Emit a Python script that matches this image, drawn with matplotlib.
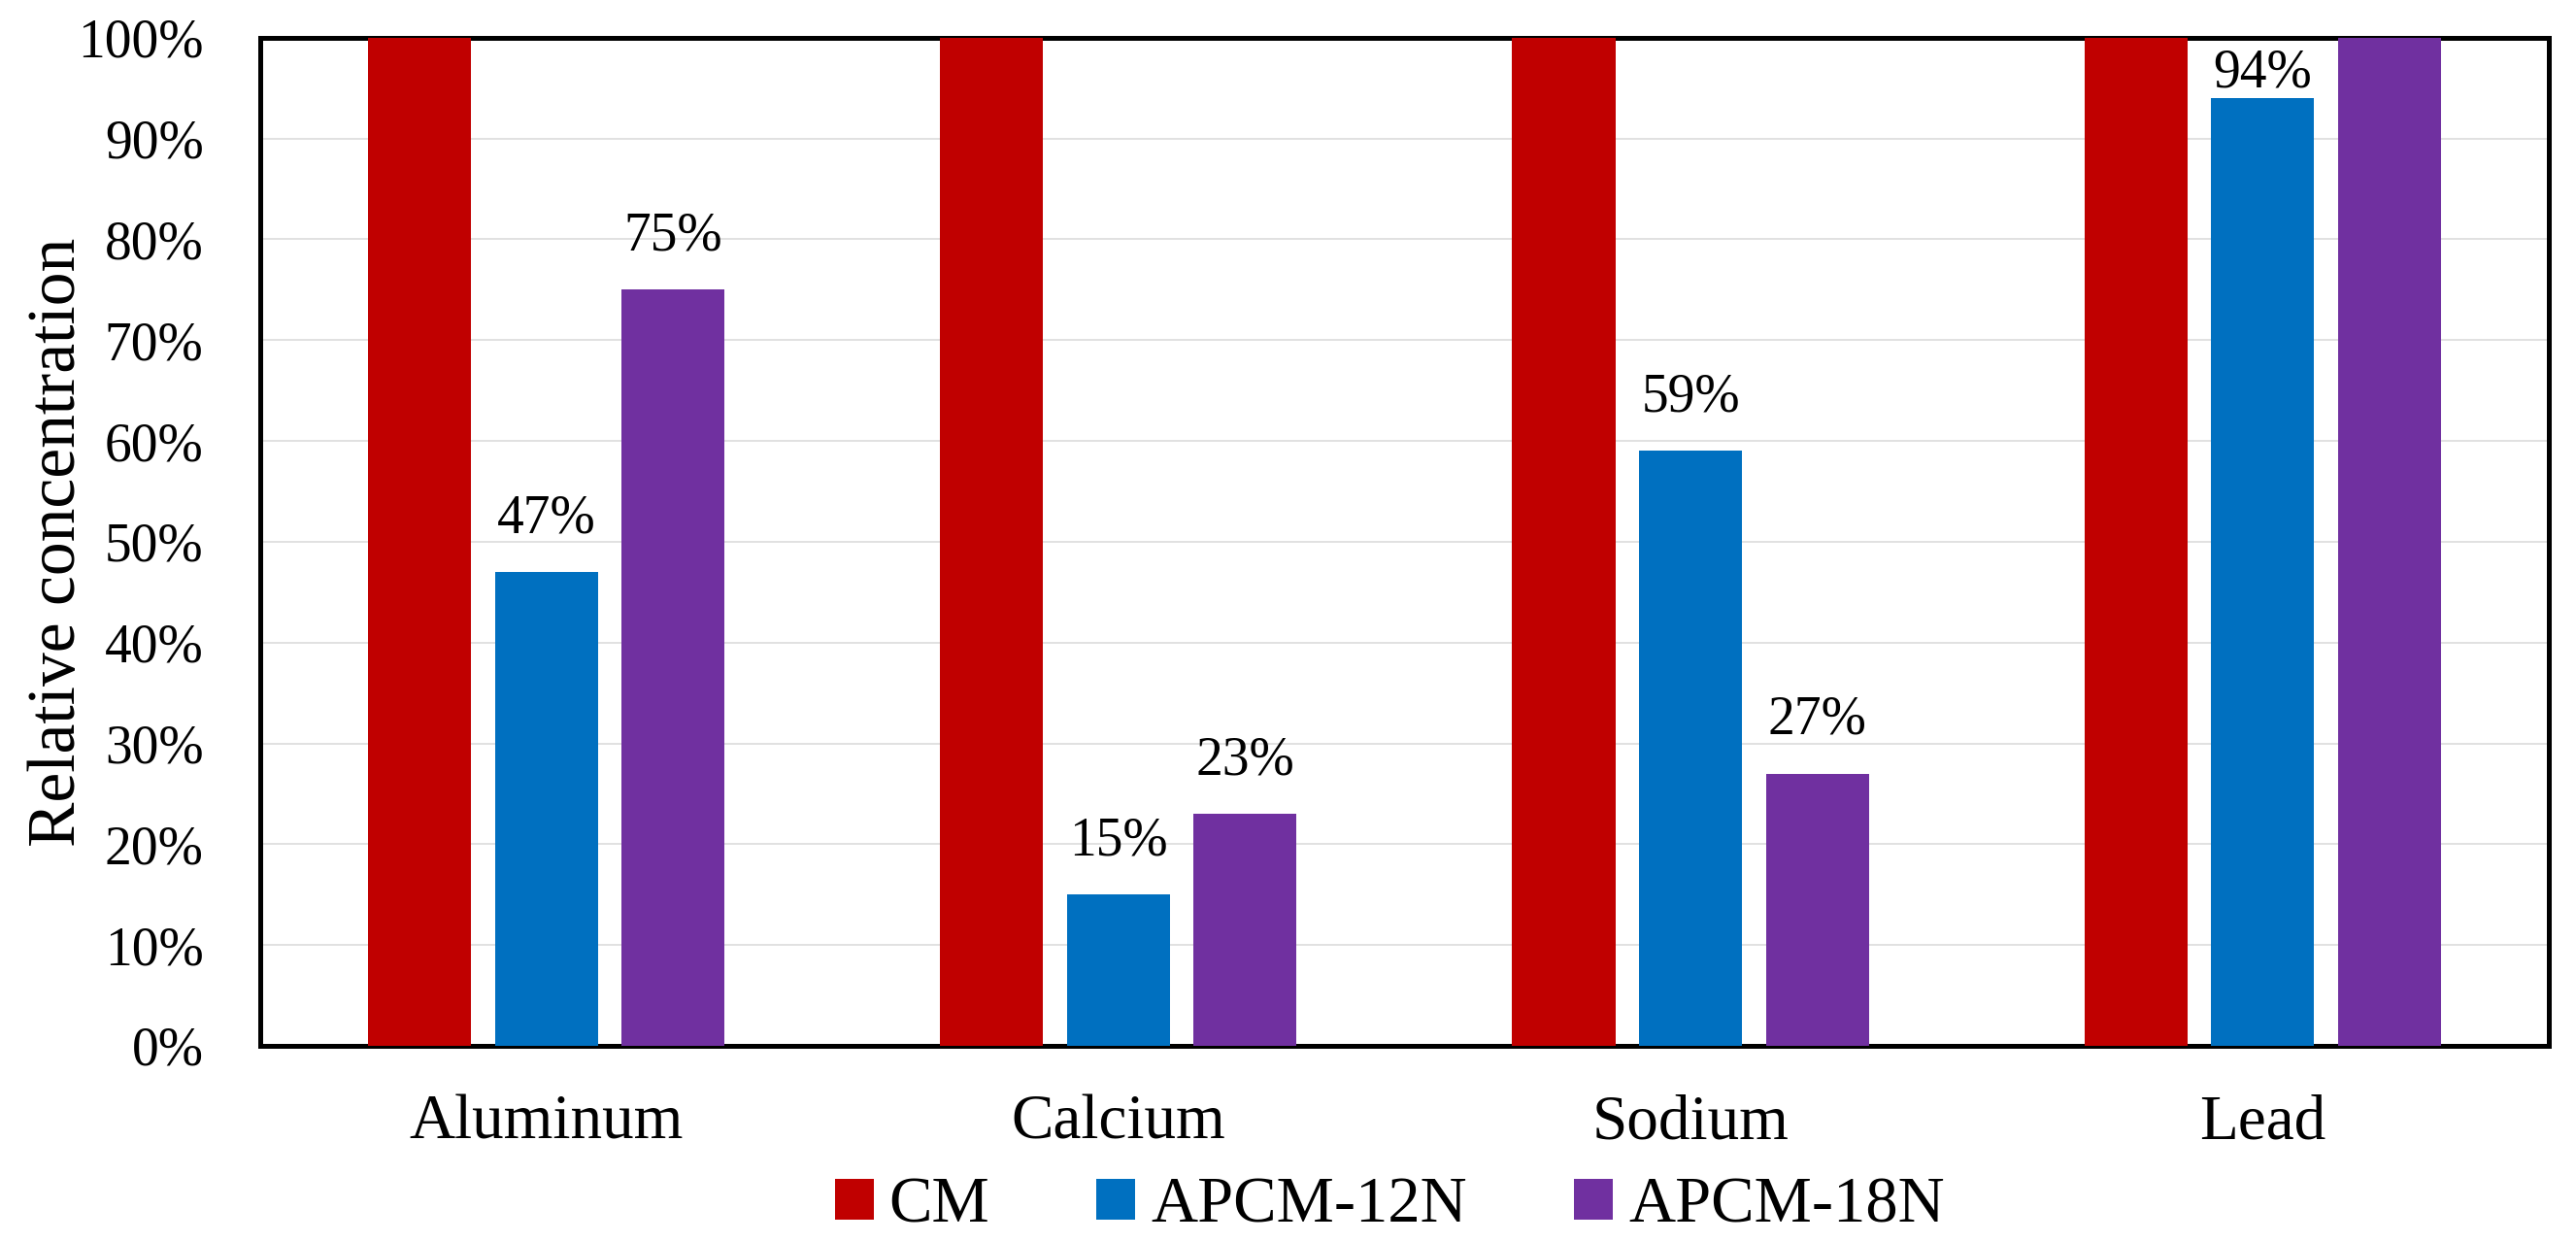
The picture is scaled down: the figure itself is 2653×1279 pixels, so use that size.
import numpy as np
import matplotlib
matplotlib.use("Agg")
import matplotlib.pyplot as plt
from matplotlib.ticker import PercentFormatter

plt.rcParams['font.family'] = ['Liberation Serif', 'DejaVu Serif']

# data (fractions)
categories = ["Aluminum", "Calcium", "Sodium", "Lead"]
series = ["CM", "APCM-12N", "APCM-18N"]
cm = [1.00, 1.00, 1.00, 1.00]
apcm_12n = [0.47, 0.15, 0.59, 0.94]
apcm_18n = [0.75, 0.23, 0.27, 1.00]
colors = ["#C00000", "#0070C0", "#7030A0"]

fig = plt.figure(figsize=(26.53, 12.79), dpi=100)
ax = fig.add_axes([0.1010, 0.1580, 0.8884, 0.8116])

x = np.arange(len(categories))
pitch = 0.2215
width = 0.18
for k, (name, vals) in enumerate(zip(series, [cm, apcm_12n, apcm_18n])):
    pos = x + (k - 1) * pitch
    ax.bar(pos, vals, width, color=colors[k], label=name, zorder=3)
    for xp, v in zip(pos, vals):
        if v >= 1.0:
            continue
        # excel pushes the label down when it would leave the plot area
        off = 8.6 if v > 0.9 else 29.5
        ax.annotate(f"{v:.0%}", (xp, v), xytext=(0, off),
                    textcoords="offset points", ha="center", va="baseline",
                    fontsize=40, zorder=4)

ax.set_xlim(-0.5, len(categories) - 0.5)
ax.set_ylim(0, 1.0)
ax.set_yticks(np.arange(0, 1.01, 0.1))
ax.yaxis.set_major_formatter(PercentFormatter(1.0, decimals=0))
ax.set_xticks(x)
ax.set_xticklabels(categories, fontsize=47)
ax.tick_params(axis='y', labelsize=40, length=0, pad=42)
ax.tick_params(axis='x', length=0, pad=36)

ax.grid(axis='y', color='#D9D9D9', linewidth=1.1, zorder=0)
ax.set_axisbelow(True)
for s in ax.spines.values():
    s.set_linewidth(3.6)
    s.set_color('black')
    s.set_zorder(2.5)

ax.set_ylabel("Relative concentration", fontsize=50, va='baseline')
ax.yaxis.set_label_coords(-0.081, 0.5)

fig.legend(loc='center', bbox_to_anchor=(0.5394, 0.0289), ncol=3,
           frameon=False, fontsize=48, handlelength=0.6, handleheight=0.6,
           handletextpad=0.24, columnspacing=1.65, borderpad=0)

fig.savefig("out.png", dpi=100)
